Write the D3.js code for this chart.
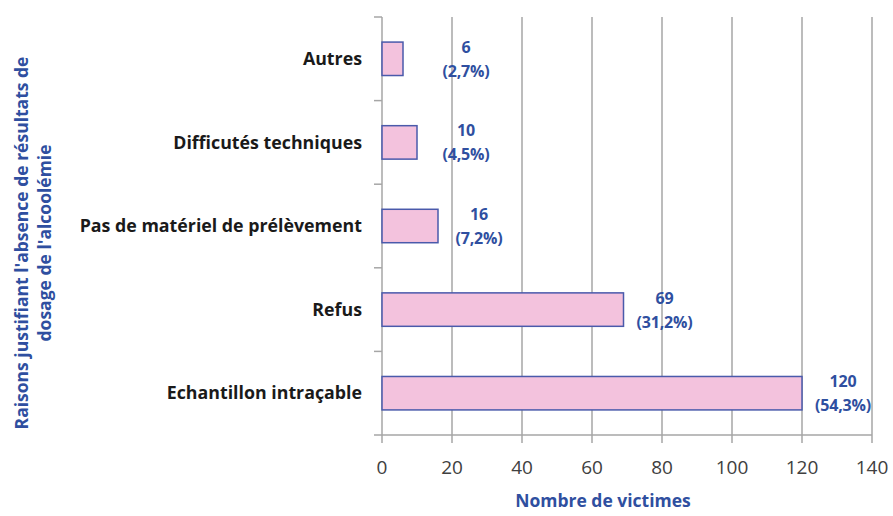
<!DOCTYPE html>
<html><head><meta charset="utf-8">
<script src="https://cdn.jsdelivr.net/npm/d3@7"></script>
<style>body{margin:0;background:#fff}svg{display:block}</style>
</head><body>
<script>
const categories = ["Autres","Difficutés techniques","Pas de matériel de prélèvement","Refus","Echantillon intraçable"];
const values = [6,10,16,69,120];
const percents = ["2,7%","4,5%","7,2%","31,2%","54,3%"];
const xTicks = [0,20,40,60,80,100,120,140];
const yTitleLines = ["Raisons justifiant l'absence de résultats de","dosage de l'alcoolémie"];
const xTitle = "Nombre de victimes";

const W=893,H=516;
const m={left:382,right:21,top:17,bottom:81};
const svg=d3.select("body").append("svg").attr("width",W).attr("height",H);
const x=d3.scaleLinear().domain([0,140]).range([m.left,W-m.right]);
const y=d3.scaleBand().domain(categories).range([m.top,H-m.bottom]).paddingInner(0.6).paddingOuter(0.3);
const blue="#2f4fa0";
const F="'Open Sans', sans-serif";

svg.append("g").selectAll("line").data(xTicks.slice(1)).join("line")
 .attr("x1",d=>x(d)).attr("x2",d=>x(d)).attr("y1",m.top).attr("y2",H-m.bottom+8)
 .attr("stroke","#a6a6a6").attr("stroke-width",1.5);
svg.append("line").attr("x1",m.left-8).attr("x2",x(140)).attr("y1",H-m.bottom).attr("y2",H-m.bottom)
 .attr("stroke","#a6a6a6").attr("stroke-width",1.5);
svg.append("line").attr("x1",x(0)).attr("x2",x(0)).attr("y1",H-m.bottom).attr("y2",H-m.bottom+8)
 .attr("stroke","#a6a6a6").attr("stroke-width",1.5);
svg.append("line").attr("x1",x(0)).attr("x2",x(0)).attr("y1",m.top).attr("y2",H-m.bottom)
 .attr("stroke","#a6a6a6").attr("stroke-width",1.5);
const step=(H-m.bottom-m.top)/categories.length;
svg.append("g").selectAll("line").data(d3.range(categories.length)).join("line")
 .attr("x1",m.left-8).attr("x2",m.left).attr("y1",i=>m.top+i*step).attr("y2",i=>m.top+i*step)
 .attr("stroke","#a6a6a6").attr("stroke-width",1.5);

svg.append("g").selectAll("text").data(xTicks).join("text")
 .attr("x",d=>x(d)).attr("y",H-m.bottom+39).attr("text-anchor","middle")
 .attr("font-family",F).attr("font-size",19).attr("fill","#404040")
 .text(d=>d);

svg.append("g").selectAll("rect").data(values).join("rect")
 .attr("x",x(0)).attr("y",(d,i)=>y(categories[i])).attr("width",d=>x(d)-x(0)).attr("height",y.bandwidth())
 .attr("fill","#f3c2dd").attr("stroke","#4a5aab").attr("stroke-width",1.5);

svg.append("g").selectAll("text").data(categories).join("text")
 .attr("x",m.left-20).attr("y",d=>y(d)+y.bandwidth()/2).attr("dy","0.35em").attr("text-anchor","end")
 .attr("font-family",F).attr("font-weight","bold").attr("font-size",17.8).attr("fill","#1a1a1a")
 .text(d=>d);

const lg=svg.append("g").selectAll("text").data(values).join("text")
 .attr("text-anchor","middle").attr("font-family",F).attr("font-weight","bold")
 .attr("font-size",16).attr("fill",blue).attr("letter-spacing",-0.2)
 .attr("transform",(d,i)=>`translate(${Math.max(x(d)+41,466)},${y(categories[i])+y.bandwidth()/2})`);
lg.append("tspan").attr("x",0).attr("y",-6).text(d=>d);
lg.append("tspan").attr("x",0).attr("y",18).text((d,i)=>"("+percents[i]+")");

svg.append("text").attr("x",603).attr("y",H-9).attr("text-anchor","middle")
 .attr("font-family",F).attr("font-weight","bold").attr("font-size",17.5).attr("fill",blue).text(xTitle);
const yt=svg.append("text").attr("transform",`translate(28,${(m.top+H-m.bottom)/2+17}) rotate(-90)`)
 .attr("text-anchor","middle").attr("font-family",F).attr("font-weight","bold").attr("font-size",17.5).attr("fill",blue);
yTitleLines.forEach((t,i)=>yt.append("tspan").attr("x",0).attr("y",i*23).text(t));
</script>
</body></html>
